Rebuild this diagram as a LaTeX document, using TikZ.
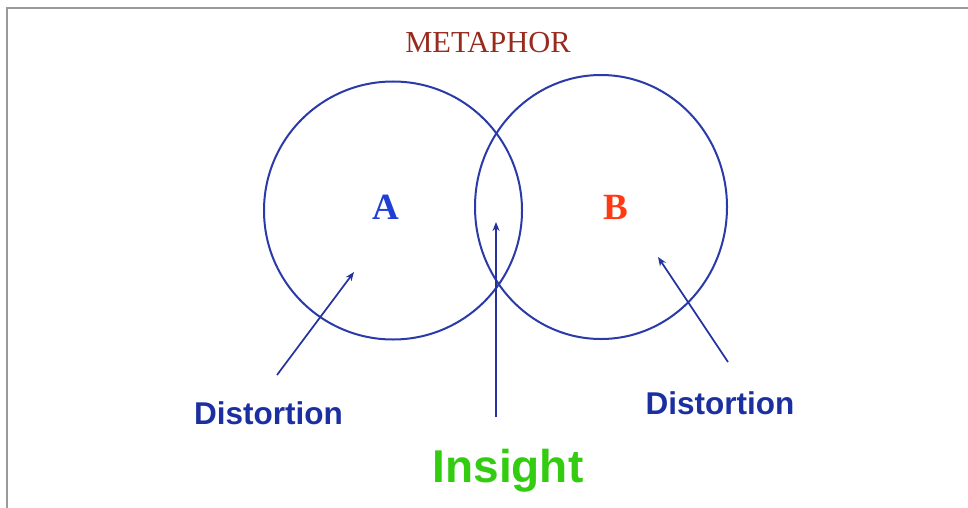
\documentclass[tikz,border=0pt]{standalone}
\usepackage{fontspec}
\setmainfont{Liberation Serif}
\setsansfont{Liberation Sans}
\usetikzlibrary{arrows.meta}
\definecolor{circblue}{HTML}{2A3AA8}
\definecolor{arrblue}{HTML}{23329E}
\definecolor{distblue}{HTML}{1C2FA0}
\definecolor{metared}{HTML}{992A1E}
\definecolor{ablue}{HTML}{1F3FD6}
\definecolor{bred}{HTML}{FF3A12}
\definecolor{insgreen}{HTML}{33CC11}
\definecolor{framegray}{HTML}{9A9A9A}
\tikzset{
  circ/.style={draw=circblue, line width=2pt},
  ptr/.style={draw=arrblue, line width=1.7pt, -{Stealth[length=9pt,width=7pt]}},
  dist/.style={text=distblue, font=\sffamily\bfseries\fontsize{31.5}{34}\selectfont, inner sep=0pt},
  letter/.style={font=\rmfamily\bfseries\fontsize{37}{40}\selectfont, inner sep=0pt},
}
\begin{document}
\begin{tikzpicture}[x=1pt,y=-1pt]
\useasboundingbox (0,0) rectangle (968,508);
\fill[white] (0,0) rectangle (968,508);
\draw[framegray, line width=2pt] (7,508) -- (7,8) -- (968,8);
\node[text=metared, font=\rmfamily\fontsize{30.5}{34}\selectfont, inner sep=0pt, anchor=base] (meta) at (488,53) {METAPHOR};
\draw[circ] (393,210.5) circle [x radius=129, y radius=129];
\draw[circ] (601,207) circle [x radius=126, y radius=132];
\node[letter, text=ablue, anchor=base] (A) at (386,219) {A};
\node[letter, text=bred, anchor=base] (B) at (616,219) {B};
\coordinate (atipA) at (354,272);
\coordinate (atipM) at (496,222);
\coordinate (atipB) at (658,257);
\coordinate (atailA) at (277,375);
\coordinate (atailM) at (496,417);
\coordinate (atailB) at (728,362);
\draw[ptr] (atailA) -- (atipA);
\draw[ptr] (atailM) -- (atipM);
\draw[ptr] (atailB) -- (atipB);
\node[dist, anchor=base] (d1) at (268.5,424) {Distortion};
\node[dist, anchor=base] (d2) at (720,414) {Distortion};
\node[text=insgreen, font=\sffamily\bfseries\fontsize{46}{50}\selectfont, inner sep=0pt, anchor=base] (ins) at (508,482) {Insight};
\end{tikzpicture}
\end{document}
